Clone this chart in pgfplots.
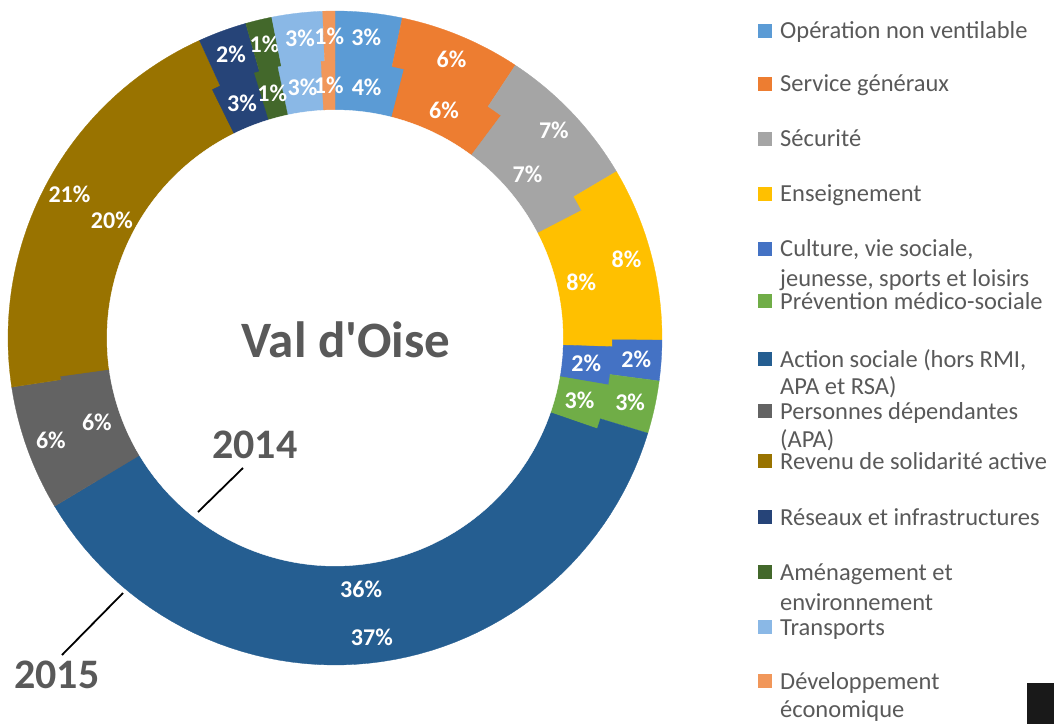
\documentclass[border=0pt]{standalone}
\usepackage{pgfplots}
\pgfplotsset{compat=1.18}
\usepackage{pgfplotstable}
\usepgfplotslibrary{polar}
\usepackage{fontspec}
\setmainfont{Carlito}

\definecolor{c0}{HTML}{5B9BD5}
\definecolor{c1}{HTML}{ED7D31}
\definecolor{c2}{HTML}{A5A5A5}
\definecolor{c3}{HTML}{FFC000}
\definecolor{c4}{HTML}{4472C4}
\definecolor{c5}{HTML}{70AD47}
\definecolor{c6}{HTML}{255E91}
\definecolor{c7}{HTML}{636363}
\definecolor{c8}{HTML}{997300}
\definecolor{c9}{HTML}{264478}
\definecolor{c10}{HTML}{43682B}
\definecolor{c11}{HTML}{8AB8E6}
\definecolor{c12}{HTML}{F1975A}
\definecolor{txt}{HTML}{595959}
\tikzset{lab/.style={font=\fontsize{24}{28}\selectfont\bfseries, text=white, inner sep=0pt}}

% shares (%) : v15 = 2015 (outer ring), v14 = 2014 (inner ring)
\pgfplotstableread{
v15  v14  l15 l14
3.3  4.0  3   4
6.0  6.2  6   6
7.2  7.2  7   7
8.6  8.1  8   8
2.0  2.2  2   2
2.6  2.6  3   3
36.7 36.1 37  36
6.2  6.4  6   6
20.6 19.9 21  20
2.4  2.6  2   3
1.3  1.4  1   1
2.5  2.5  3   3
0.6  0.8  1   1
}\shares

\begin{document}
\begin{tikzpicture}
\useasboundingbox (0pt,0pt) rectangle (1054pt,724pt);
\begin{polaraxis}[
  at={(335pt,386pt)}, anchor=center,
  scale only axis, width=654pt, height=654pt,
  xmin=0, xmax=360, ymin=0, ymax=327,
  hide axis, clip=false,
]
\pgfplotstablegetrowsof{\shares}
\pgfmathtruncatemacro\N{\pgfplotsretval-1}
% outer ring 2015
\def\cum{0}
\pgfplotsforeachungrouped \i in {0,...,\N}{%
  \pgfplotstablegetelem{\i}{v15}\of\shares \let\v\pgfplotsretval
  \pgfplotstablegetelem{\i}{l15}\of\shares \let\l\pgfplotsretval
  \pgfmathsetmacro\aS{90-3.6*\cum}%
  \pgfmathsetmacro\cum{\cum+\v}%
  \pgfmathsetmacro\aE{90-3.6*\cum}%
  \pgfmathsetmacro\aM{(\aS+\aE)/2}%
  \edef\temp{\noexpand\addplot[fill=c\i, draw=c\i, line width=0.3pt, domain=\aE:\aS, samples=60] {327} -- (axis cs:0,0) -- cycle;
    \noexpand\node[lab] at (axis cs:\aM,302) {\l\noexpand\%};}%
  \temp
}
% inner ring 2014
\def\cum{0}
\pgfplotsforeachungrouped \i in {0,...,\N}{%
  \pgfplotstablegetelem{\i}{v14}\of\shares \let\v\pgfplotsretval
  \pgfmathsetmacro\aS{90-3.6*\cum}%
  \pgfmathsetmacro\cum{\cum+\v}%
  \pgfmathsetmacro\aE{90-3.6*\cum}%
  \edef\temp{\noexpand\addplot[fill=c\i, draw=c\i, line width=0.3pt, domain=\aE:\aS, samples=60] {277} -- (axis cs:0,0) -- cycle;}%
  \temp
}
\addplot[fill=white, draw=white, domain=0:360, samples=180] {228} -- cycle;
% inner labels
\def\cum{0}
\pgfplotsforeachungrouped \i in {0,...,\N}{%
  \pgfplotstablegetelem{\i}{v14}\of\shares \let\v\pgfplotsretval
  \pgfplotstablegetelem{\i}{l14}\of\shares \let\l\pgfplotsretval
  \pgfmathsetmacro\aS{90-3.6*\cum}%
  \pgfmathsetmacro\cum{\cum+\v}%
  \pgfmathsetmacro\aE{90-3.6*\cum}%
  \pgfmathsetmacro\aM{(\aS+\aE)/2}%
  \edef\temp{\noexpand\node[lab] at (axis cs:\aM,252.5) {\l\noexpand\%};}%
  \temp
}
\end{polaraxis}

% centre title and year labels
\node[font=\fontsize{51}{60}\selectfont\bfseries, text=txt, anchor=base] at (346pt,367pt) {Val d\textquotesingle Oise};
\node[font=\fontsize{42}{48}\selectfont\bfseries, text=txt, anchor=base west, inner sep=0pt] at (212pt,266pt) {2014};
\node[font=\fontsize{42}{48}\selectfont\bfseries, text=txt, anchor=base west, inner sep=0pt] at (14pt,36pt) {2015};
\draw[black, line width=1.8pt] (243pt,256pt) -- (198pt,212pt);
\draw[black, line width=1.8pt] (123pt,131pt) -- (62pt,69pt);

% legend
\def\legsq#1#2{\fill[#1] (758pt,{(724-#2+1)*1pt}) rectangle ++(14pt,14pt);}
\def\legtx#1#2{\node[font=\fontsize{24.5}{28}\selectfont, text=txt, anchor=base west, inner sep=0pt] at (780pt,{(724-#1)*1pt}) {#2};}
\legsq{c0}{39}\legtx{39}{Opération non ventilable}
\legsq{c1}{92}\legtx{92}{Service généraux}
\legsq{c2}{147}\legtx{147}{Sécurité}
\legsq{c3}{202}\legtx{202}{Enseignement}
\legsq{c4}{257}\legtx{257}{Culture, vie sociale,}\legtx{287}{jeunesse, sports et loisirs}
\legsq{c5}{309}\legtx{309}{Prévention médico-sociale}
\legsq{c6}{367}\legtx{367}{Action sociale (hors RMI,}\legtx{394}{APA et RSA)}
\legsq{c7}{419}\legtx{419}{Personnes dépendantes}\legtx{447}{(APA)}
\legsq{c8}{469}\legtx{469}{Revenu de solidarité active}
\legsq{c9}{525}\legtx{525}{Réseaux et infrastructures}
\legsq{c10}{580}\legtx{580}{Aménagement et}\legtx{610}{environnement}
\legsq{c11}{635}\legtx{635}{Transports}
\legsq{c12}{689}\legtx{689}{Développement}\legtx{717}{économique}
\fill[black!90] (1027pt,0pt) rectangle (1054pt,41pt);
\end{tikzpicture}
\end{document}
